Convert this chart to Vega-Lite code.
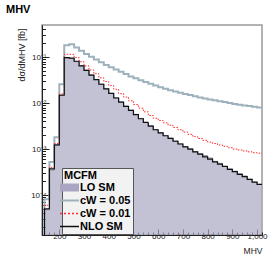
{
  "$schema": "https://vega.github.io/schema/vega-lite/v6.json",
  "width": 220,
  "height": 210,
  "autosize": {"type": "none"},
  "padding": {"left": 42, "top": 25, "right": 14, "bottom": 27},
  "background": "white",
  "title": {"text": "MHV", "anchor": "start", "frame": "group", "dx": -36, "offset": -1, "baseline": "bottom", "fontSize": 11, "fontWeight": "bold", "font": "Liberation Sans", "color": "#000"},
  "config": {
    "view": {"stroke": "#999", "strokeWidth": 1.5},
    "axis": {"labelFont": "Liberation Sans", "labelFontSize": 8, "labelColor": "#222", "titleFont": "Liberation Sans", "titleFontSize": 8.5, "titleFontWeight": "normal", "titleColor": "#222", "tickColor": "#222", "domainColor": "#222", "grid": false}
  },
  "datasets": {
    "h": [
      {"s": "LO SM", "x": 140, "v": 4.8e-5}, {"s": "LO SM", "x": 160, "v": 3.5e-4}, {"s": "LO SM", "x": 180, "v": 1.2e-3}, {"s": "LO SM", "x": 200, "v": 0.0150},
      {"s": "LO SM", "x": 220, "v": 0.096}, {"s": "LO SM", "x": 240, "v": 0.094}, {"s": "LO SM", "x": 260, "v": 0.080}, {"s": "LO SM", "x": 280, "v": 0.065},
      {"s": "LO SM", "x": 300, "v": 0.052}, {"s": "LO SM", "x": 320, "v": 0.041}, {"s": "LO SM", "x": 340, "v": 0.0326}, {"s": "LO SM", "x": 360, "v": 0.026},
      {"s": "LO SM", "x": 380, "v": 0.0206}, {"s": "LO SM", "x": 400, "v": 0.0163}, {"s": "LO SM", "x": 420, "v": 0.0131}, {"s": "LO SM", "x": 440, "v": 0.0106},
      {"s": "LO SM", "x": 460, "v": 0.0086}, {"s": "LO SM", "x": 480, "v": 0.0070}, {"s": "LO SM", "x": 500, "v": 0.0057}, {"s": "LO SM", "x": 520, "v": 0.00465},
      {"s": "LO SM", "x": 540, "v": 0.0038}, {"s": "LO SM", "x": 560, "v": 0.0032}, {"s": "LO SM", "x": 580, "v": 0.00265}, {"s": "LO SM", "x": 600, "v": 0.00226},
      {"s": "LO SM", "x": 620, "v": 0.00196}, {"s": "LO SM", "x": 640, "v": 0.00172}, {"s": "LO SM", "x": 660, "v": 0.0015}, {"s": "LO SM", "x": 680, "v": 0.0013},
      {"s": "LO SM", "x": 700, "v": 0.00114}, {"s": "LO SM", "x": 720, "v": 0.00101}, {"s": "LO SM", "x": 740, "v": 0.00088}, {"s": "LO SM", "x": 760, "v": 0.00079},
      {"s": "LO SM", "x": 780, "v": 0.00072}, {"s": "LO SM", "x": 800, "v": 0.00064}, {"s": "LO SM", "x": 820, "v": 0.00054}, {"s": "LO SM", "x": 840, "v": 0.00049},
      {"s": "LO SM", "x": 860, "v": 0.00043}, {"s": "LO SM", "x": 880, "v": 0.00037}, {"s": "LO SM", "x": 900, "v": 0.00033}, {"s": "LO SM", "x": 920, "v": 0.00029},
      {"s": "LO SM", "x": 940, "v": 0.00026}, {"s": "LO SM", "x": 960, "v": 0.00022}, {"s": "LO SM", "x": 980, "v": 0.00019}, {"s": "LO SM", "x": 1000, "v": 0.00017},
      {"s": "LO SM", "x": 1020, "v": 0.00017},

      {"s": "cW = 0.05", "x": 140, "v": 1e-6},
      {"s": "cW = 0.05", "x": 140, "v": 8.1e-5}, {"s": "cW = 0.05", "x": 160, "v": 5.2e-4}, {"s": "cW = 0.05", "x": 180, "v": 1.8e-3}, {"s": "cW = 0.05", "x": 200, "v": 0.0257},
      {"s": "cW = 0.05", "x": 220, "v": 0.182}, {"s": "cW = 0.05", "x": 240, "v": 0.191}, {"s": "cW = 0.05", "x": 260, "v": 0.162}, {"s": "cW = 0.05", "x": 280, "v": 0.138},
      {"s": "cW = 0.05", "x": 300, "v": 0.117}, {"s": "cW = 0.05", "x": 320, "v": 0.102}, {"s": "cW = 0.05", "x": 340, "v": 0.0891}, {"s": "cW = 0.05", "x": 360, "v": 0.0776},
      {"s": "cW = 0.05", "x": 380, "v": 0.0676}, {"s": "cW = 0.05", "x": 400, "v": 0.0603}, {"s": "cW = 0.05", "x": 420, "v": 0.0537}, {"s": "cW = 0.05", "x": 440, "v": 0.0479},
      {"s": "cW = 0.05", "x": 460, "v": 0.0427}, {"s": "cW = 0.05", "x": 480, "v": 0.0380}, {"s": "cW = 0.05", "x": 500, "v": 0.0347}, {"s": "cW = 0.05", "x": 520, "v": 0.0316},
      {"s": "cW = 0.05", "x": 540, "v": 0.0288}, {"s": "cW = 0.05", "x": 560, "v": 0.0263}, {"s": "cW = 0.05", "x": 580, "v": 0.0240}, {"s": "cW = 0.05", "x": 600, "v": 0.0221},
      {"s": "cW = 0.05", "x": 620, "v": 0.0204}, {"s": "cW = 0.05", "x": 640, "v": 0.0191}, {"s": "cW = 0.05", "x": 660, "v": 0.0178}, {"s": "cW = 0.05", "x": 680, "v": 0.0168},
      {"s": "cW = 0.05", "x": 700, "v": 0.0158}, {"s": "cW = 0.05", "x": 720, "v": 0.0150}, {"s": "cW = 0.05", "x": 740, "v": 0.0141}, {"s": "cW = 0.05", "x": 760, "v": 0.0133},
      {"s": "cW = 0.05", "x": 780, "v": 0.0126}, {"s": "cW = 0.05", "x": 800, "v": 0.0120}, {"s": "cW = 0.05", "x": 820, "v": 0.0115}, {"s": "cW = 0.05", "x": 840, "v": 0.0110},
      {"s": "cW = 0.05", "x": 860, "v": 0.0105}, {"s": "cW = 0.05", "x": 880, "v": 0.0100}, {"s": "cW = 0.05", "x": 900, "v": 0.00955}, {"s": "cW = 0.05", "x": 920, "v": 0.00923},
      {"s": "cW = 0.05", "x": 940, "v": 0.00891}, {"s": "cW = 0.05", "x": 960, "v": 0.00861}, {"s": "cW = 0.05", "x": 980, "v": 0.00832}, {"s": "cW = 0.05", "x": 1000, "v": 0.00804},
      {"s": "cW = 0.05", "x": 1020, "v": 0.00804},

      {"s": "cW = 0.01", "x": 140, "v": 1e-6},
      {"s": "cW = 0.01", "x": 140, "v": 6.0e-5}, {"s": "cW = 0.01", "x": 160, "v": 4.0e-4}, {"s": "cW = 0.01", "x": 180, "v": 1.32e-3}, {"s": "cW = 0.01", "x": 200, "v": 0.0158},
      {"s": "cW = 0.01", "x": 220, "v": 0.116}, {"s": "cW = 0.01", "x": 240, "v": 0.115}, {"s": "cW = 0.01", "x": 260, "v": 0.0977}, {"s": "cW = 0.01", "x": 280, "v": 0.0794},
      {"s": "cW = 0.01", "x": 300, "v": 0.0646}, {"s": "cW = 0.01", "x": 320, "v": 0.0525}, {"s": "cW = 0.01", "x": 340, "v": 0.0437}, {"s": "cW = 0.01", "x": 360, "v": 0.0355},
      {"s": "cW = 0.01", "x": 380, "v": 0.0295}, {"s": "cW = 0.01", "x": 400, "v": 0.0240}, {"s": "cW = 0.01", "x": 420, "v": 0.0200}, {"s": "cW = 0.01", "x": 440, "v": 0.0162},
      {"s": "cW = 0.01", "x": 460, "v": 0.0135}, {"s": "cW = 0.01", "x": 480, "v": 0.0112}, {"s": "cW = 0.01", "x": 500, "v": 0.00933}, {"s": "cW = 0.01", "x": 520, "v": 0.00776},
      {"s": "cW = 0.01", "x": 540, "v": 0.00646}, {"s": "cW = 0.01", "x": 560, "v": 0.00537}, {"s": "cW = 0.01", "x": 580, "v": 0.00468}, {"s": "cW = 0.01", "x": 600, "v": 0.00417},
      {"s": "cW = 0.01", "x": 620, "v": 0.00372}, {"s": "cW = 0.01", "x": 640, "v": 0.00331}, {"s": "cW = 0.01", "x": 660, "v": 0.00295}, {"s": "cW = 0.01", "x": 680, "v": 0.00263},
      {"s": "cW = 0.01", "x": 700, "v": 0.00234}, {"s": "cW = 0.01", "x": 720, "v": 0.00209}, {"s": "cW = 0.01", "x": 740, "v": 0.00186}, {"s": "cW = 0.01", "x": 760, "v": 0.00170},
      {"s": "cW = 0.01", "x": 780, "v": 0.00155}, {"s": "cW = 0.01", "x": 800, "v": 0.00141}, {"s": "cW = 0.01", "x": 820, "v": 0.00132}, {"s": "cW = 0.01", "x": 840, "v": 0.00123},
      {"s": "cW = 0.01", "x": 860, "v": 0.00115}, {"s": "cW = 0.01", "x": 880, "v": 0.00107}, {"s": "cW = 0.01", "x": 900, "v": 0.00100}, {"s": "cW = 0.01", "x": 920, "v": 0.000955},
      {"s": "cW = 0.01", "x": 940, "v": 0.000912}, {"s": "cW = 0.01", "x": 960, "v": 0.000871}, {"s": "cW = 0.01", "x": 980, "v": 0.000832}, {"s": "cW = 0.01", "x": 1000, "v": 0.000813},
      {"s": "cW = 0.01", "x": 1020, "v": 0.000813},

      {"s": "NLO SM", "x": 140, "v": 1e-6},
      {"s": "NLO SM", "x": 140, "v": 5.0e-5}, {"s": "NLO SM", "x": 160, "v": 3.7e-4}, {"s": "NLO SM", "x": 180, "v": 1.23e-3}, {"s": "NLO SM", "x": 200, "v": 0.0148},
      {"s": "NLO SM", "x": 220, "v": 0.0977}, {"s": "NLO SM", "x": 240, "v": 0.0955}, {"s": "NLO SM", "x": 260, "v": 0.0813}, {"s": "NLO SM", "x": 280, "v": 0.0646},
      {"s": "NLO SM", "x": 300, "v": 0.0513}, {"s": "NLO SM", "x": 320, "v": 0.0407}, {"s": "NLO SM", "x": 340, "v": 0.0324}, {"s": "NLO SM", "x": 360, "v": 0.0257},
      {"s": "NLO SM", "x": 380, "v": 0.0204}, {"s": "NLO SM", "x": 400, "v": 0.0162}, {"s": "NLO SM", "x": 420, "v": 0.0129}, {"s": "NLO SM", "x": 440, "v": 0.0105},
      {"s": "NLO SM", "x": 460, "v": 0.00851}, {"s": "NLO SM", "x": 480, "v": 0.00692}, {"s": "NLO SM", "x": 500, "v": 0.00562}, {"s": "NLO SM", "x": 520, "v": 0.00457},
      {"s": "NLO SM", "x": 540, "v": 0.00380}, {"s": "NLO SM", "x": 560, "v": 0.00316}, {"s": "NLO SM", "x": 580, "v": 0.00263}, {"s": "NLO SM", "x": 600, "v": 0.00224},
      {"s": "NLO SM", "x": 620, "v": 0.00195}, {"s": "NLO SM", "x": 640, "v": 0.00170}, {"s": "NLO SM", "x": 660, "v": 0.00148}, {"s": "NLO SM", "x": 680, "v": 0.00129},
      {"s": "NLO SM", "x": 700, "v": 0.00112}, {"s": "NLO SM", "x": 720, "v": 0.00100}, {"s": "NLO SM", "x": 740, "v": 0.000871}, {"s": "NLO SM", "x": 760, "v": 0.000776},
      {"s": "NLO SM", "x": 780, "v": 0.000676}, {"s": "NLO SM", "x": 800, "v": 0.000603}, {"s": "NLO SM", "x": 820, "v": 0.000525}, {"s": "NLO SM", "x": 840, "v": 0.000468},
      {"s": "NLO SM", "x": 860, "v": 0.000417}, {"s": "NLO SM", "x": 880, "v": 0.000363}, {"s": "NLO SM", "x": 900, "v": 0.000324}, {"s": "NLO SM", "x": 920, "v": 0.000282},
      {"s": "NLO SM", "x": 940, "v": 0.000251}, {"s": "NLO SM", "x": 960, "v": 0.000219}, {"s": "NLO SM", "x": 980, "v": 0.000191}, {"s": "NLO SM", "x": 1000, "v": 0.000170},
      {"s": "NLO SM", "x": 1020, "v": 0.000170}
    ]
  },
  "data": {"name": "h"},
  "layer": [
    {
      "transform": [{"filter": "datum.s === 'LO SM'"}],
      "mark": {"type": "area", "interpolate": "step-after", "color": "#aaa6c2", "clip": true, "line": {"color": "#7f7c99", "strokeWidth": 0.8}},
      "encoding": {
        "x": {"field": "x", "type": "quantitative", "scale": {"domain": [130, 1020], "nice": false, "zero": false},
              "axis": {"orient": "bottom", "values": [140,160,180,220,240,260,280,320,340,360,380,420,440,460,480,520,540,560,580,620,640,660,680,720,740,760,780,820,840,860,880,920,940,960,980,1020], "tickSize": -3, "labels": false, "title": null, "domain": true}},
        "y": {"field": "v", "type": "quantitative", "scale": {"type": "log", "domain": [1.35e-5, 0.5], "nice": false},
              "axis": {"orient": "left", "values": [2e-5,3e-5,4e-5,5e-5,6e-5,7e-5,8e-5,9e-5,2e-4,3e-4,4e-4,5e-4,6e-4,7e-4,8e-4,9e-4,2e-3,3e-3,4e-3,5e-3,6e-3,7e-3,8e-3,9e-3,2e-2,3e-2,4e-2,5e-2,6e-2,7e-2,8e-2,9e-2,0.2,0.3,0.4], "tickSize": -3.5, "labels": false, "title": null, "domain": true}},
        "y2": {"datum": 1e-6}
      }
    },
    {
      "transform": [{"filter": "datum.s === 'cW = 0.05'"}],
      "mark": {"type": "line", "interpolate": "step-after", "color": "#9db2bc", "strokeWidth": 2, "clip": true},
      "encoding": {
        "x": {"field": "x", "type": "quantitative", "axis": null},
        "y": {"field": "v", "type": "quantitative", "axis": null}
      }
    },
    {
      "transform": [{"filter": "datum.s === 'cW = 0.01'"}],
      "mark": {"type": "line", "interpolate": "step-after", "color": "#ff2a2a", "strokeWidth": 1, "strokeDash": [1.5, 1.5], "clip": true},
      "encoding": {
        "x": {"field": "x", "type": "quantitative", "axis": null},
        "y": {"field": "v", "type": "quantitative", "axis": null}
      }
    },
    {
      "transform": [{"filter": "datum.s === 'NLO SM'"}],
      "mark": {"type": "line", "interpolate": "step-after", "strokeWidth": 1.2, "clip": true},
      "encoding": {
        "x": {"field": "x", "type": "quantitative",
              "axis": {"orient": "bottom", "values": [200,300,400,500,600,700,800,900,1000], "tickSize": -6, "labelPadding": 3, "title": "MHV", "titleAnchor": "end", "titlePadding": 6}},
        "y": {"field": "v", "type": "quantitative",
              "axis": {"orient": "left", "values": [1e-4, 1e-3, 1e-2, 1e-1], "tickSize": -7, "labelPadding": 3,
                       "labelExpr": "datum.value < 0.0005 ? '10⁻⁴' : datum.value < 0.005 ? '10⁻³' : datum.value < 0.05 ? '10⁻²' : '10⁻¹'",
                       "title": "dσ/dMHV [fb]", "titleX": -21, "titleY": 3, "titleAngle": 270, "titleAlign": "right", "titleBaseline": "middle", "titleFontSize": 9}},
        "color": {"field": "s", "type": "nominal",
                  "scale": {"domain": ["LO SM", "cW = 0.05", "cW = 0.01", "NLO SM"], "range": ["#aaa6c2", "#9db2bc", "#ff2a2a", "#111111"]},
                  "legend": {"orient": "none", "legendX": 20, "legendY": 143, "title": "MCFM", "symbolType": "M-1.9,0H1.9", "symbolSize": 100,
                             "fillColor": "#f2f2f2", "strokeColor": "#555", "padding": 2, "rowPadding": 1, "titlePadding": 1,
                             "titleFont": "Liberation Sans", "titleFontSize": 11, "titleFontWeight": "bold", "titleColor": "#000",
                             "labelFont": "Liberation Sans", "labelFontSize": 11, "labelFontWeight": "bold", "labelColor": "#000", "labelOffset": 5,
                             "labelExpr": "datum.label + '             '",
                             "encode": {"symbols": {"update": {
                               "shape": {"signal": "datum.value === 'LO SM' ? 'M-1.9,-0.8H1.9V0.8H-1.9Z' : 'M-1.9,0H1.9'"},
                               "fill": {"signal": "datum.value === 'LO SM' ? '#aaa6c2' : 'transparent'"},
                               "strokeWidth": {"signal": "datum.value === 'LO SM' ? 0 : datum.value === 'cW = 0.05' ? 2 : 1.3"}}}}}},
        "strokeDash": {"field": "s", "type": "nominal",
                       "scale": {"domain": ["LO SM", "cW = 0.05", "cW = 0.01", "NLO SM"], "range": [[1, 0], [1, 0], [2, 2], [1, 0]]},
                       "legend": {"orient": "none", "legendX": 20, "legendY": 143, "title": "MCFM", "symbolType": "M-1.9,0H1.9", "symbolSize": 100,
                             "fillColor": "#f2f2f2", "strokeColor": "#555", "padding": 2, "rowPadding": 1, "titlePadding": 1,
                             "titleFont": "Liberation Sans", "titleFontSize": 11, "titleFontWeight": "bold", "titleColor": "#000",
                             "labelFont": "Liberation Sans", "labelFontSize": 11, "labelFontWeight": "bold", "labelColor": "#000", "labelOffset": 5,
                             "labelExpr": "datum.label + '             '",
                             "encode": {"symbols": {"update": {
                               "shape": {"signal": "datum.value === 'LO SM' ? 'M-1.9,-0.8H1.9V0.8H-1.9Z' : 'M-1.9,0H1.9'"},
                               "fill": {"signal": "datum.value === 'LO SM' ? '#aaa6c2' : 'transparent'"},
                               "strokeWidth": {"signal": "datum.value === 'LO SM' ? 0 : datum.value === 'cW = 0.05' ? 2 : 1.3"}}}}}}
      }
    }
  ],
  "resolve": {"axis": {"x": "independent", "y": "independent"}}
}
